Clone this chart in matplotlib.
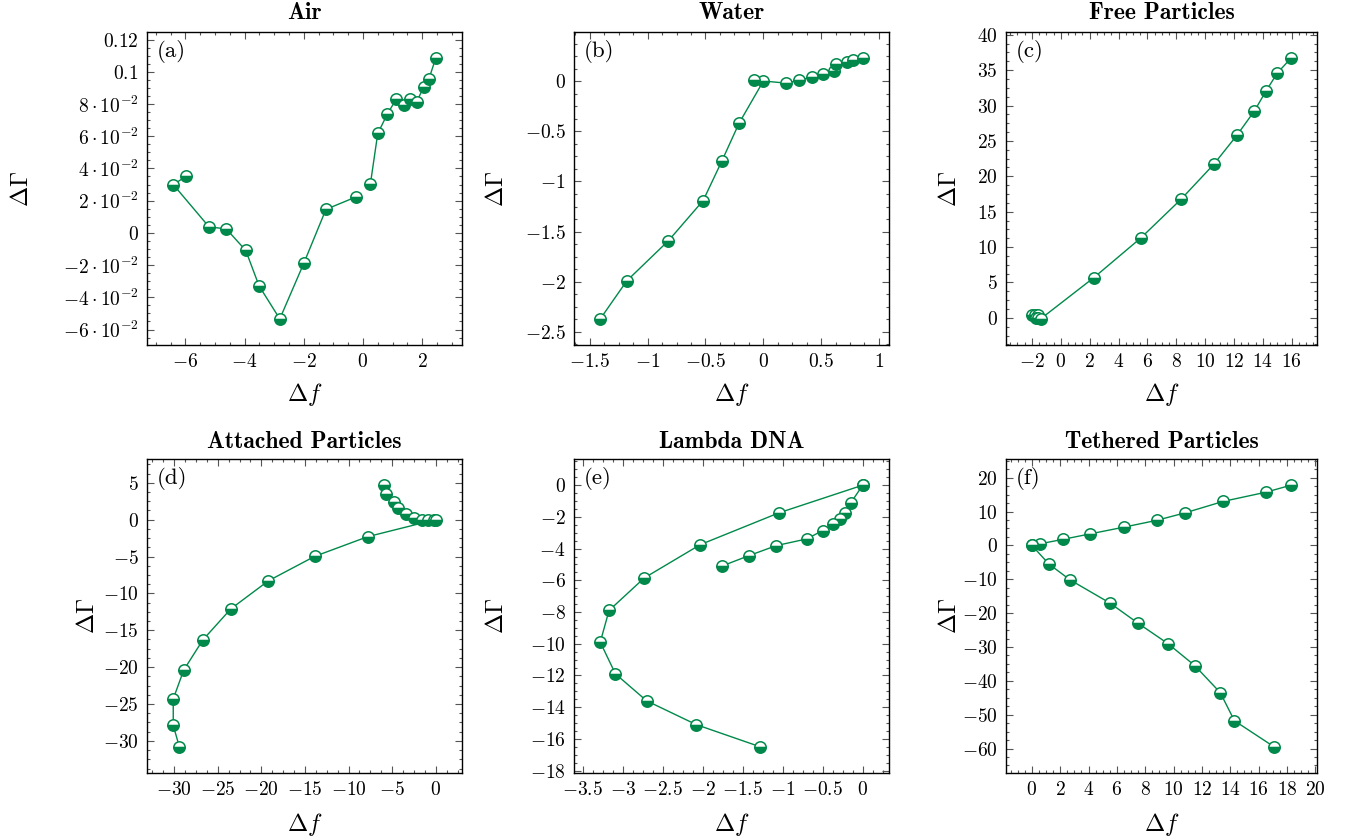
import matplotlib
matplotlib.use('Agg')
import matplotlib.pyplot as plt
from matplotlib.ticker import AutoMinorLocator, FixedLocator, FuncFormatter

plt.rcParams['mathtext.fontset'] = 'cm'
plt.rcParams['font.family'] = 'serif'
plt.rcParams['font.serif'] = ['cmr10', 'DejaVu Serif']
plt.rcParams['axes.formatter.use_mathtext'] = True

GREEN = '#00894A'

# ---------------- data ----------------
air_x1 = [-5.98, -6.41, -5.20, -4.62, -3.96, -3.51, -2.81, -2.00, -1.25, -0.25]
air_y1 = [0.035, 0.030, 0.0037, 0.0025, -0.0109, -0.0329, -0.0534, -0.0189, 0.0146, 0.0222]
air_x2 = [0.25, 0.50, 0.82, 1.12, 1.39, 1.60, 1.82, 2.05, 2.23, 2.46]
air_y2 = [0.0302, 0.0617, 0.0736, 0.0829, 0.0792, 0.0829, 0.0814, 0.0906, 0.0956, 0.1085]

water_x = [-1.41, -1.18, -0.82, -0.52, -0.36, -0.21, 0.0, -0.08, 0.20, 0.31, 0.42, 0.52, 0.61, 0.63, 0.72, 0.78, 0.86]
water_y = [-2.37, -1.99, -1.59, -1.19, -0.80, -0.42, 0.0, 0.01, -0.02, 0.01, 0.04, 0.07, 0.10, 0.17, 0.19, 0.21, 0.23]

free_x = [-2.0, -1.8, -1.6, -1.75, -1.55, -1.4, 2.3, 5.55, 8.35, 10.6, 12.2, 13.4, 14.2, 15.0, 15.95]
free_y = [0.35, 0.45, 0.4, 0.05, 0.0, -0.15, 5.7, 11.3, 16.8, 21.7, 25.8, 29.2, 32.0, 34.6, 36.7]

att_x = [-5.89, -5.69, -4.77, -4.35, -3.36, -2.47, -1.59, -0.86, -0.21, 0.0,
         -7.8, -13.9, -19.2, -23.5, -26.7, -28.9, -30.1, -30.1, -29.4]
att_y = [4.67, 3.44, 2.36, 1.59, 0.77, 0.23, 0.0, 0.0, 0.0, 0.0,
         -2.31, -4.99, -8.3, -12.1, -16.3, -20.4, -24.3, -27.9, -30.8]

dna_x1 = [-1.28, -2.08, -2.70, -3.09, -3.28, -3.17, -2.73, -2.03, -1.05, 0.0]
dna_y1 = [-16.5, -15.1, -13.6, -11.9, -9.9, -7.9, -5.85, -3.75, -1.75, 0.0]
dna_x2 = [0.0, -0.15, -0.22, -0.28, -0.37, -0.50, -0.70, -1.08, -1.42, -1.76]
dna_y2 = [0.0, -1.12, -1.73, -2.15, -2.46, -2.86, -3.39, -3.81, -4.44, -5.1]

teth_x1 = [18.3, 16.5, 13.5, 10.8, 8.8, 6.5, 4.1, 2.2, 0.6, 0.0]
teth_y1 = [17.8, 15.7, 13.0, 9.6, 7.4, 5.4, 3.4, 1.8, 0.5, 0.0]
teth_x2 = [0.0, 1.2, 2.7, 5.5, 7.5, 9.6, 11.5, 13.3, 14.3, 17.1]
teth_y2 = [0.0, -5.5, -10.2, -17.0, -23.0, -29.0, -35.5, -43.5, -51.8, -59.5]

titles = ['Air', 'Water', 'Free Particles', 'Attached Particles', 'Lambda DNA', 'Tethered Particles']
panel_tags = ['(a)', '(b)', '(c)', '(d)', '(e)', '(f)']

xticks_list = [
    [-6, -4, -2, 0, 2],
    [-1.5, -1, -0.5, 0, 0.5, 1],
    [-2, 0, 2, 4, 6, 8, 10, 12, 14, 16],
    [-30, -25, -20, -15, -10, -5, 0],
    [-3.5, -3, -2.5, -2, -1.5, -1, -0.5, 0],
    [0, 2, 4, 6, 8, 10, 12, 14, 16, 18, 20],
]
yticks_list = [
    [-0.06, -0.04, -0.02, 0, 0.02, 0.04, 0.06, 0.08, 0.1, 0.12],
    [-2.5, -2, -1.5, -1, -0.5, 0],
    [0, 5, 10, 15, 20, 25, 30, 35, 40],
    [-30, -25, -20, -15, -10, -5, 0, 5],
    [-18, -16, -14, -12, -10, -8, -6, -4, -2, 0],
    [-60, -50, -40, -30, -20, -10, 0, 10, 20],
]

series = [
    [(air_x1, air_y1), (air_x2, air_y2)],
    [(water_x, water_y)],
    [(free_x, free_y)],
    [(att_x, att_y)],
    [(dna_x1, dna_y1), (dna_x2, dna_y2)],
    [(teth_x1, teth_y1), (teth_x2, teth_y2)],
]

# ---------------- layout ----------------
W, H = 1349, 840
fig = plt.figure(figsize=(W / 100, H / 100), dpi=100)
cols = [(147, 462), (574, 889), (1006, 1317)]
rows = [(32, 345), (459, 773)]
ylabel_px = [22, 497, 950, 88, 497, 950]
xlabel_px = [395, 825]
title_px = [13, 442]


def num_fmt(v, pos=None):
    if abs(v) < 1e-12:
        return r'$0$'
    return r'$%g$' % v


def air_fmt(v, pos=None):
    if abs(v) < 1e-12:
        return r'$0$'
    if abs(v) >= 0.099:
        return r'$%g$' % v
    m = int(round(v * 100))
    return r'$%d\cdot10^{-2}$' % m


for i in range(6):
    r, c = divmod(i, 3)
    l, rr = cols[c]
    t, b = rows[r]
    aw, ah = rr - l, b - t
    ax = fig.add_axes([l / W, 1 - b / H, aw / W, ah / H])
    allx, ally = [], []
    for (xs, ys) in series[i]:
        ax.plot(xs, ys, '-', color=GREEN, lw=1.0, zorder=2)
        for k, (xv, yv) in enumerate(zip(xs, ys)):
            ax.plot([xv], [yv], 'o', ms=8.2, mew=1.1, mec=GREEN, mfc=GREEN,
                    fillstyle='bottom', markerfacecoloralt='white', zorder=3)
        allx += list(xs)
        ally += list(ys)
    x0, x1 = min(allx), max(allx)
    y0, y1 = min(ally), max(ally)
    dx, dy = (x1 - x0) * 0.1, (y1 - y0) * 0.1
    ax.set_xlim(x0 - dx, x1 + dx)
    ax.set_ylim(y0 - dy, y1 + dy)

    ax.xaxis.set_major_locator(FixedLocator(xticks_list[i]))
    ax.yaxis.set_major_locator(FixedLocator(yticks_list[i]))
    ax.xaxis.set_minor_locator(AutoMinorLocator(4))
    ax.yaxis.set_minor_locator(AutoMinorLocator(4))
    ax.xaxis.set_major_formatter(FuncFormatter(num_fmt))
    ax.yaxis.set_major_formatter(FuncFormatter(air_fmt if i == 0 else num_fmt))
    ax.tick_params(which='both', direction='in', top=True, right=True,
                   labelsize=14, color='#555555', width=0.8)
    ax.tick_params(which='major', length=5, pad=6)
    ax.tick_params(which='minor', length=2.5)
    for sp in ax.spines.values():
        sp.set_linewidth(1.0)

    ax.set_title(titles[i], fontsize=17, fontfamily='cmb10',
                 y=1 + (t - title_px[r]) / ah, va='center', pad=0)
    ax.set_xlabel(r'$\Delta f$', fontsize=17.5)
    ax.xaxis.set_label_coords(0.5, -(xlabel_px[r] - b) / ah)
    ax.xaxis.label.set_va('center')
    ax.set_ylabel(r'$\Delta\Gamma$', fontsize=17.5)
    ax.yaxis.set_label_coords(-(l - ylabel_px[i]) / aw, 0.5)
    ax.yaxis.label.set_va('center')
    ax.text(0.03, 0.975, panel_tags[i], transform=ax.transAxes, ha='left', va='top',
            fontsize=16.5)

fig.savefig('out.png', dpi=100)
